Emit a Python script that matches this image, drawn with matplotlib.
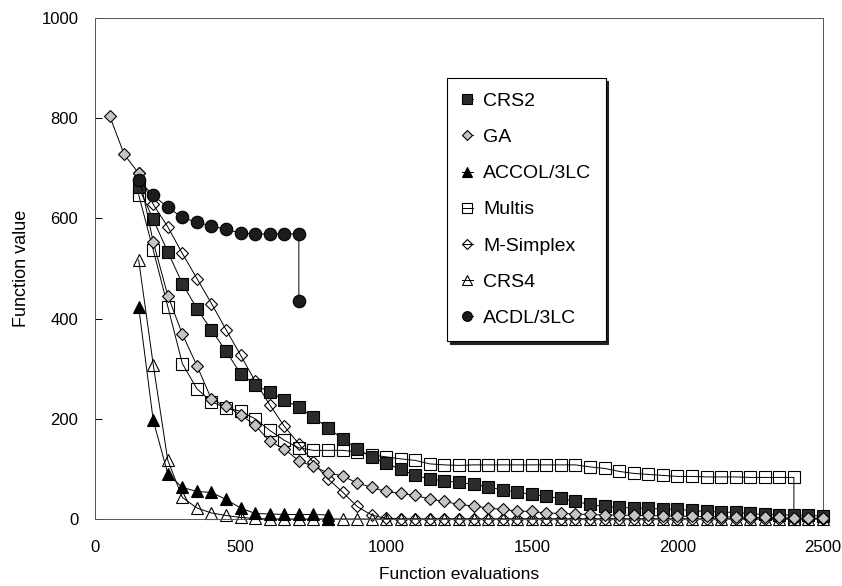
import matplotlib
matplotlib.use('Agg')
import matplotlib.pyplot as plt
import numpy as np

plt.rcParams['font.family'] = ['Liberation Sans', 'DejaVu Sans']

# ---------------- data ----------------
crs2_x = np.arange(150, 2501, 50)
crs2_y = [662, 598, 533, 470, 420, 377, 335, 290, 268, 253,
          238, 223, 203, 182, 160, 140, 124, 111, 99, 87,
          80, 76, 73, 69, 64, 58, 54, 49, 45, 41,
          35, 29, 25, 23, 22, 21, 20, 19, 17, 15,
          14, 13, 11, 9, 8, 8, 7, 6]

ga_x = np.arange(50, 2501, 50)
ga_y = [805, 728, 690, 553, 446, 369, 306, 239, 225, 208,
        187, 155, 140, 116, 105, 92, 86, 72, 63, 55,
        51, 47, 40, 35, 29, 26, 22, 19, 16, 15,
        12, 11, 10, 9, 8, 8, 7, 7, 6, 6,
        5, 5, 4, 4, 3, 3, 3, 2, 2, 2]

accol_x = list(np.arange(150, 801, 50)) + [800]
accol_y = [423, 197, 90, 63, 55, 53, 39, 22, 11, 10, 9, 9, 9, 8, 0]

multis_x = list(np.arange(150, 2401, 50)) + [2400]
multis_y = [647, 537, 424, 310, 260, 234, 222, 215, 200, 177,
            157, 142, 137, 137, 137, 134, 128, 124, 120, 117,
            110, 108, 107, 108, 108, 108, 108, 108, 108, 108,
            108, 104, 101, 95, 91, 89, 87, 85, 85, 84,
            84, 84, 83, 83, 83, 83, 0]

msimplex_x = np.arange(150, 2501, 50)
msimplex_y = [690, 628, 583, 530, 480, 430, 378, 327, 275, 228,
              185, 150, 113, 80, 54, 25, 8, 1] + [0] * 30

crs4_x = np.arange(150, 2501, 50)
crs4_y = [517, 308, 117, 43, 22, 12, 7, 3, 1] + [0] * 39

acdl_x = list(np.arange(150, 701, 50)) + [700]
acdl_y = [676, 646, 622, 602, 592, 585, 578, 571, 569, 569, 569, 569, 436]

labels = ['CRS2', 'GA', 'ACCOL/3LC', 'Multis', 'M-Simplex', 'CRS4', 'ACDL/3LC']
x_ticks = [0, 500, 1000, 1500, 2000, 2500]
y_ticks = [0, 200, 400, 600, 800, 1000]

# ---------------- figure ----------------
W, H = 842, 586
fig = plt.figure(figsize=(W / 100, H / 100), dpi=100)
ax = fig.add_axes([95 / W, 1 - 519 / H, (823 - 95) / W, (519 - 18) / H])

lw = 0.7
lc = 'black'
common = dict(color=lc, linewidth=lw, markeredgecolor='black',
              markeredgewidth=0.8, clip_on=False)

ax.plot(crs2_x, crs2_y, marker='s', markersize=9, markerfacecolor='#2b2b2b',
        label=labels[0], zorder=3, **common)
ax.plot(ga_x, ga_y, marker='D', markersize=6.3, markerfacecolor='#c4c4c4',
        label=labels[1], zorder=3, **common)
ax.plot(accol_x, accol_y, marker='^', markersize=8.5, markerfacecolor='black',
        label=labels[2], zorder=3, **common)
ax.plot(multis_x, multis_y, marker='s', markersize=9, markerfacecolor='none',
        label=labels[3], zorder=2, **common)
ax.plot(msimplex_x, msimplex_y, marker='D', markersize=6.3, markerfacecolor='none',
        label=labels[4], zorder=2, **common)
ax.plot(crs4_x, crs4_y, marker='^', markersize=8.5, markerfacecolor='none',
        label=labels[5], zorder=2, **common)
ax.plot(acdl_x, acdl_y, marker='o', markersize=9, markerfacecolor='#1c1c1c',
        label=labels[6], zorder=4, **common)

ax.set_xlim(0, 2500)
ax.set_ylim(0, 1000)
ax.set_xticks(x_ticks)
ax.set_yticks(y_ticks)
ax.tick_params(axis='both', direction='in', length=5, width=0.7, labelsize=12)
ax.tick_params(axis='x', pad=15)
ax.tick_params(axis='y', pad=12)
for s in ax.spines.values():
    s.set_linewidth(0.7)
    s.set_color('#555555')

ax.set_xlabel('Function evaluations', fontsize=12.5, labelpad=9)
ax.set_ylabel('Function value', fontsize=13, labelpad=8)

leg = ax.legend(loc='upper left', bbox_to_anchor=(447 / W, 1 - 78 / H),
                bbox_transform=fig.transFigure, borderaxespad=0,
                fontsize=14, handlelength=0.6, handletextpad=0.5,
                labelspacing=0.95, borderpad=0.75, numpoints=1,
                fancybox=False, framealpha=1, edgecolor='black',
                shadow={'color': '#222222', 'alpha': 1})
leg.get_frame().set_linewidth(0.8)
for h in leg.legend_handles:
    if h.get_marker() == 'D':
        h.set_markersize(5.2)
    else:
        h.set_markersize(7)

fig.savefig('out.png', dpi=100)
